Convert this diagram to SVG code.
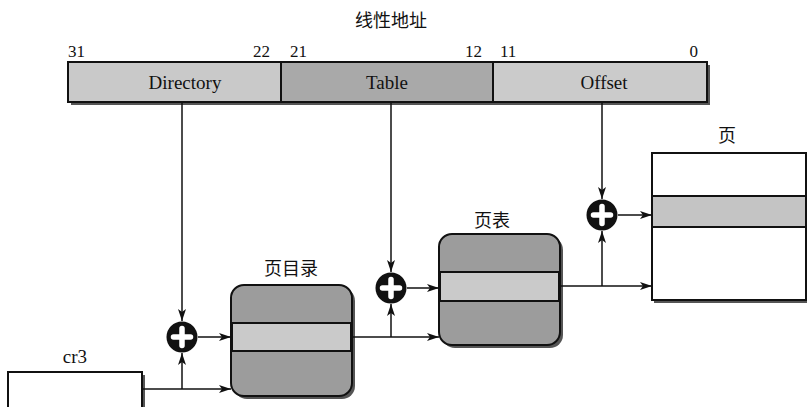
<svg xmlns="http://www.w3.org/2000/svg" width="808" height="407" viewBox="0 0 808 407">
<defs>
<style>
.t{font-family:"Liberation Serif","Times New Roman",serif;fill:#111}
.cn{font-family:"Noto Sans CJK SC",sans-serif;fill:#111;font-size:18px}
.box{stroke:#111;stroke-width:2}
.ln{stroke:#111;stroke-width:1.5;fill:none}
.sh{fill:#555}
</style>
<marker id="ah" viewBox="0 0 12 8" refX="12" refY="4" markerWidth="12" markerHeight="8" markerUnits="userSpaceOnUse" orient="auto">
<path d="M0,0 L12,4 L0,8 L3,4 Z" fill="#111"/>
</marker>
<g id="plus">
<circle r="15.5" fill="#111"/>
<path d="M-8.5,0 H8.5 M0,-8.5 V8.5" stroke="#fff" stroke-width="5.5" stroke-linecap="round"/>
</g>
</defs>

<text class="cn" x="391" y="27" text-anchor="middle">线性地址</text>

<g id="linear-address">
<rect x="71" y="65" width="639" height="40" class="sh"/>
<rect x="68" y="62" width="213" height="40" fill="#c9c9c9" class="box"/>
<rect x="281" y="62" width="212" height="40" fill="#a9a9a9" class="box"/>
<rect x="493" y="62" width="214" height="40" fill="#cbcbcb" class="box"/>
<text class="t" x="185" y="89" font-size="19" text-anchor="middle">Directory</text>
<text class="t" x="387" y="89" font-size="19" text-anchor="middle">Table</text>
<text class="t" x="604" y="89" font-size="19" text-anchor="middle">Offset</text>
<g class="t" font-size="17">
<text x="68" y="57">31</text>
<text x="270" y="57" text-anchor="end">22</text>
<text x="290" y="57">21</text>
<text x="482" y="57" text-anchor="end">12</text>
<text x="500" y="57">11</text>
<text x="698" y="57" text-anchor="end">0</text>
</g>
</g>

<g id="cr3">
<text class="t" x="75" y="363" font-size="19" text-anchor="middle">cr3</text>
<rect x="11" y="375" width="134" height="40" class="sh"/>
<rect x="8" y="372" width="134" height="40" fill="#fff" class="box"/>
</g>

<g id="page-directory">
<text class="cn" x="291" y="275" text-anchor="middle">页目录</text>
<rect x="234" y="288" width="121" height="111" rx="13" class="sh"/>
<rect x="231" y="285" width="121" height="111" rx="13" fill="#9c9c9c" class="box"/>
<rect x="232" y="323" width="119" height="28" fill="#cacaca" stroke="#111" stroke-width="2"/>
</g>

<g id="page-table">
<text class="cn" x="492" y="227" text-anchor="middle">页表</text>
<rect x="442" y="237" width="121" height="111" rx="13" class="sh"/>
<rect x="439" y="234" width="121" height="111" rx="13" fill="#9c9c9c" class="box"/>
<rect x="440" y="272" width="119" height="29" fill="#cacaca" stroke="#111" stroke-width="2"/>
</g>

<g id="page">
<text class="cn" x="727" y="142" text-anchor="middle">页</text>
<rect x="654" y="155" width="153" height="148" class="sh"/>
<rect x="652" y="153" width="154" height="147" fill="#fff" class="box"/>
<rect x="652" y="196" width="154" height="31" fill="#c4c4c4" stroke="#111" stroke-width="2"/>
</g>

<g id="adder-1"><use href="#plus" x="182" y="337"/></g>
<g id="adder-2"><use href="#plus" x="391" y="288"/></g>
<g id="adder-3"><use href="#plus" x="602" y="215"/></g>

<g id="connectors">
<path class="ln" d="M182,103 V321" marker-end="url(#ah)"/>
<path class="ln" d="M391,103 V272" marker-end="url(#ah)"/>
<path class="ln" d="M602,103 V199" marker-end="url(#ah)"/>
<path class="ln" d="M143,389 H231" marker-end="url(#ah)"/>
<path class="ln" d="M182,389 V353" marker-end="url(#ah)"/>
<path class="ln" d="M198,337 H231" marker-end="url(#ah)"/>
<path class="ln" d="M353,337 H439" marker-end="url(#ah)"/>
<path class="ln" d="M391,337 V304" marker-end="url(#ah)"/>
<path class="ln" d="M407,288 H439" marker-end="url(#ah)"/>
<path class="ln" d="M561,286 H652" marker-end="url(#ah)"/>
<path class="ln" d="M602,286 V231" marker-end="url(#ah)"/>
<path class="ln" d="M618,215 H652" marker-end="url(#ah)"/>
</g>
</svg>
